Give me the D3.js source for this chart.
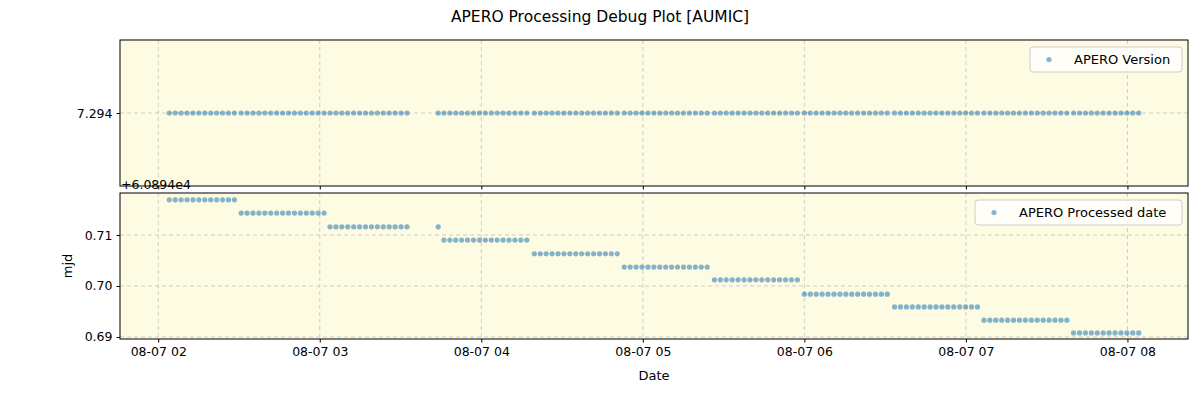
<!DOCTYPE html><html><head><meta charset="utf-8"><script src="https://d3js.org/d3.v7.min.js"></script>
<style>body{margin:0;background:#fff}text{font-family:"DejaVu Sans",sans-serif}</style></head><body><svg id="c" width="1200" height="400"></svg>
<script>
// minutes after 2024-08-07 02:00 for each group of points
const groupTimes=[
[4.1,6.3,8.5,10.7,12.9,15.1,17.3,19.5,21.7,23.9,26.1,28.3],
[30.8,33.0,35.2,37.4,39.6,41.8,44.0,46.2,48.4,50.6,52.8,55.0,57.2,59.4,61.6],
[63.8,66.0,68.2,70.4,72.6,74.8,77.0,79.2,81.4,83.6,85.8,88.0,90.2,92.4,104.0],
[106.1,108.3,110.5,112.7,114.9,117.1,119.3,121.5,123.7,125.9,128.1,130.3,132.5,134.7,136.9],
[139.7,141.9,144.1,146.3,148.5,150.7,152.9,155.1,157.3,159.5,161.7,163.9,166.1,168.3,170.5],
[173.1,175.3,177.5,179.7,181.9,184.1,186.3,188.5,190.7,192.9,195.1,197.3,199.5,201.7,203.9],
[206.6,208.8,211.0,213.2,215.4,217.6,219.8,222.0,224.2,226.4,228.6,230.8,233.0,235.2,237.4],
[240.0,242.2,244.4,246.6,248.8,251.0,253.2,255.4,257.6,259.8,262.0,264.2,266.4,268.6,270.8],
[273.5,275.7,277.9,280.1,282.3,284.5,286.7,288.9,291.1,293.3,295.5,297.7,299.9,302.1,304.3],
[306.7,308.9,311.1,313.3,315.5,317.7,319.9,322.1,324.3,326.5,328.7,330.9,333.1,335.3,337.5],
[340.0,342.2,344.4,346.6,348.8,351.0,353.2,355.4,357.6,359.8,362.0,364.2]];
// processed mjd minus 60894 per group
const groupMjd=[0.7169,0.7143,0.7116,0.7090,0.7063,0.7037,0.7012,0.6984,0.6959,0.6933,0.6908];
const version=7.294;
const xTickLabels=["08-07 02","08-07 03","08-07 04","08-07 05","08-07 06","08-07 07","08-07 08"];
const bottomTicks=[0.69,0.70,0.71];

const base=new Date(2024,7,7,2,0,0);
const toDate=m=>new Date(base.getTime()+m*60000);
const pts=[];
groupTimes.forEach((g,i)=>g.forEach(m=>pts.push({t:toDate(m),mjd:groupMjd[i]})));
const svg=d3.select("#c");
const L=120,R=1188;
const x=d3.scaleTime().domain([toDate(-14.2),toDate(382.5)]).range([L,R]);
const tickDates=xTickLabels.map((_,i)=>toDate(i*60));
const bg="#fdfbe2",col="#1f77b4";
function panel(top,bot,y,ticks,fmt,key,legend,lw){
  svg.append("rect").attr("x",L).attr("y",top).attr("width",R-L).attr("height",bot-top).attr("fill",bg);
  const g=svg.append("g");
  tickDates.forEach(d=>g.append("line").attr("x1",x(d)).attr("x2",x(d)).attr("y1",top).attr("y2",bot).attr("stroke","#ccc").attr("stroke-dasharray","4,3"));
  ticks.forEach(v=>g.append("line").attr("x1",L).attr("x2",R).attr("y1",y(v)).attr("y2",y(v)).attr("stroke","#ccc").attr("stroke-dasharray","4,3"));
  svg.append("g").selectAll("circle").data(pts).join("circle").attr("cx",d=>x(d.t)).attr("cy",d=>y(key(d))).attr("r",2.6).attr("fill",col).attr("fill-opacity",0.55);
  svg.append("rect").attr("x",L).attr("y",top).attr("width",R-L).attr("height",bot-top).attr("fill","none").attr("stroke","#000");
  const ya=svg.append("g").attr("transform",`translate(${L},0)`).call(d3.axisLeft(y).tickValues(ticks).tickFormat(fmt).tickSize(3.5).tickPadding(4));
  ya.select(".domain").remove();ya.selectAll("text").attr("font-size",12.5).attr("font-family","DejaVu Sans");
  const xa=svg.append("g").attr("transform",`translate(0,${bot})`).call(d3.axisBottom(x).tickValues(tickDates).tickFormat((d,i)=>xTickLabels[i]).tickSize(3.5).tickPadding(5));
  xa.select(".domain").remove();xa.selectAll("text").attr("font-size",12.5).attr("font-family","DejaVu Sans");
  // legend
  const lx=R-6-lw,ly=top+7;
  svg.append("rect").attr("x",lx).attr("y",ly).attr("width",lw).attr("height",25).attr("rx",3).attr("fill","#fff").attr("fill-opacity",0.8).attr("stroke","#ccc");
  svg.append("circle").attr("cx",lx+19).attr("cy",ly+12.5).attr("r",2.6).attr("fill",col).attr("fill-opacity",0.55);
  svg.append("text").attr("x",lx+44).attr("y",ly+17).attr("font-size",13).text(legend);
  return xa;
}
const y1=d3.scaleLinear().domain([version-0.0035,version+0.0035]).range([186,40]);
const xa1=panel(40,186,y1,[version],d3.format(".3f"),d=>version,"APERO Version",152);
xa1.selectAll("text").remove();
const y2=d3.scaleLinear().domain([0.6896,0.71824]).range([339,193]);
panel(193,339,y2,bottomTicks,d3.format(".2f"),d=>d.mjd,"APERO Processed date",207);
svg.append("text").attr("x",121).attr("y",189).attr("font-size",12.5).text("+6.0894e4");
svg.append("text").attr("x",600).attr("y",22).attr("text-anchor","middle").attr("font-size",15.5).text("APERO Processing Debug Plot [AUMIC]");
svg.append("text").attr("x",654).attr("y",380).attr("text-anchor","middle").attr("font-size",13).text("Date");
svg.append("text").attr("transform","translate(72,266) rotate(-90)").attr("text-anchor","middle").attr("font-size",13).text("mjd");
</script></body></html>
